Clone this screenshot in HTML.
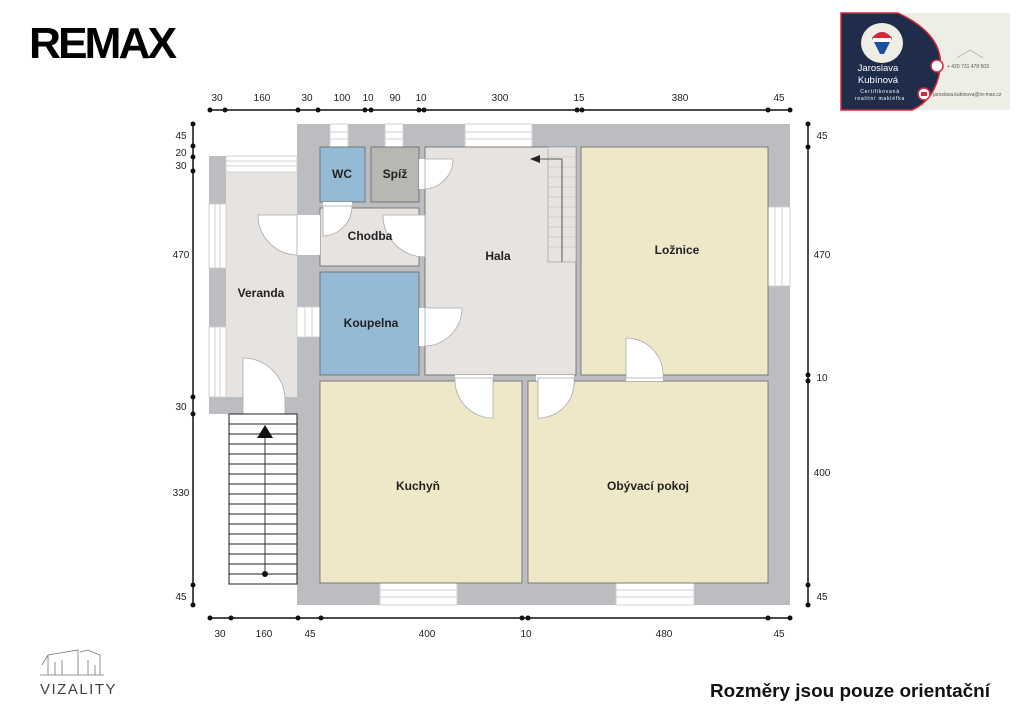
<!DOCTYPE html>
<html><head><meta charset="utf-8">
<style>
html,body{margin:0;padding:0;background:#fff;}
body{width:1024px;height:723px;position:relative;overflow:hidden;font-family:"Liberation Sans",sans-serif;}
svg text{font-family:"Liberation Sans",sans-serif;}
</style></head>
<body>
<svg width="1024" height="723" viewBox="0 0 1024 723" xmlns="http://www.w3.org/2000/svg">
<text x="29" y="58" font-size="44" font-weight="bold" fill="#000" textLength="145" lengthAdjust="spacingAndGlyphs" letter-spacing="-3">REMAX</text>

<rect x="841" y="13" width="169" height="97" fill="#efeee6"/>
<path d="M841,13 L898,13 Q945,35 940,70 Q935,100 912,110 L841,110 Z" fill="#1f2d4a" stroke="#d8263a" stroke-width="1.5"/>
<ellipse cx="882" cy="43" rx="21" ry="20" fill="#efeee6"/>
<path d="M872,38 Q882,26 892,38 L884,54 L880,54 Z" fill="#1b4fa0"/>
<path d="M872,38 Q882,26 892,38 L872,38 Z" fill="#d8263a"/>
<rect x="873" y="38" width="18" height="4" fill="#fff"/>
<text x="878" y="71" font-size="9.5" fill="#fff" text-anchor="middle">Jaroslava</text>
<text x="878" y="83" font-size="9.5" fill="#fff" text-anchor="middle">Kubínová</text>
<text x="880" y="93" font-size="5" fill="#fff" text-anchor="middle" letter-spacing="0.8">Certifikovaná</text>
<text x="880" y="100" font-size="5" fill="#fff" text-anchor="middle" letter-spacing="0.8">realitní makléřka</text>
<circle cx="937" cy="66" r="6" fill="#fff" stroke="#d8263a" stroke-width="1.5"/>
<circle cx="924" cy="94" r="6" fill="#fff" stroke="#d8263a" stroke-width="1.5"/>
<rect x="921" y="92" width="6" height="4" fill="#d8263a"/>
<text x="947" y="68" font-size="5" fill="#555">+ 420 731 478 503</text>
<text x="933" y="96" font-size="5" fill="#555">jaroslava.kubinova@re-max.cz</text>
<path d="M957,58 L970,50 L983,58" fill="none" stroke="#999" stroke-width="0.6"/>

<rect x="297" y="124" width="493" height="481" fill="#bcbdc0"/>
<rect x="209" y="156" width="89" height="258" fill="#bcbdc0"/>
<rect x="226" y="172" width="71" height="225" fill="#e6e3e1"/>
<g fill="#fff" stroke="#d0d0d0" stroke-width="1">
<rect x="330" y="124" width="18" height="23"/>
<rect x="385" y="124" width="18" height="23"/>
<rect x="465" y="124" width="67" height="23"/>
<rect x="226" y="156" width="71" height="16"/>
<rect x="209" y="204" width="17" height="64"/>
<rect x="209" y="327" width="17" height="70"/>
<rect x="297" y="307" width="23" height="30"/>
<rect x="768" y="207" width="22" height="79"/>
<rect x="380" y="583" width="77" height="22"/>
<rect x="616" y="583" width="78" height="22"/>
</g>
<g stroke="#d0d0d0" stroke-width="1">
<line x1="330" y1="132" x2="348" y2="132"/><line x1="330" y1="139" x2="348" y2="139"/>
<line x1="385" y1="132" x2="403" y2="132"/><line x1="385" y1="139" x2="403" y2="139"/>
<line x1="465" y1="132" x2="532" y2="132"/><line x1="465" y1="139" x2="532" y2="139"/>
<line x1="226" y1="161" x2="297" y2="161"/><line x1="226" y1="166" x2="297" y2="166"/>
<line x1="215" y1="204" x2="215" y2="268"/><line x1="220" y1="204" x2="220" y2="268"/>
<line x1="215" y1="327" x2="215" y2="397"/><line x1="220" y1="327" x2="220" y2="397"/>
<line x1="305" y1="307" x2="305" y2="337"/><line x1="312" y1="307" x2="312" y2="337"/>
<line x1="775" y1="207" x2="775" y2="286"/><line x1="782" y1="207" x2="782" y2="286"/>
<line x1="380" y1="590" x2="457" y2="590"/><line x1="380" y1="597" x2="457" y2="597"/>
<line x1="616" y1="590" x2="694" y2="590"/><line x1="616" y1="597" x2="694" y2="597"/>
</g>
<g stroke="#666" stroke-width="0.8">
<rect x="320" y="147" width="45" height="55" fill="#94bad6"/>
<rect x="371" y="147" width="48" height="55" fill="#b9b7b1"/>
<rect x="320" y="208" width="99" height="58" fill="#e6e3e1"/>
<rect x="320" y="272" width="99" height="103" fill="#94bad6"/>
<rect x="425" y="147" width="151" height="228" fill="#e6e3e1"/>
<rect x="581" y="147" width="187" height="228" fill="#efe8c8"/>
<rect x="320" y="381" width="202" height="202" fill="#efe8c8"/>
<rect x="528" y="381" width="240" height="202" fill="#efe8c8"/>
</g>
<rect x="548" y="147" width="28" height="115" fill="#e6e3e1" stroke="#999" stroke-width="0.6"/>
<g stroke="#bbb" stroke-width="0.6">
<line x1="548" y1="157" x2="576" y2="157"/><line x1="548" y1="167" x2="576" y2="167"/><line x1="548" y1="177" x2="576" y2="177"/><line x1="548" y1="187" x2="576" y2="187"/><line x1="548" y1="197" x2="576" y2="197"/><line x1="548" y1="207" x2="576" y2="207"/><line x1="548" y1="217" x2="576" y2="217"/><line x1="548" y1="227" x2="576" y2="227"/><line x1="548" y1="237" x2="576" y2="237"/><line x1="548" y1="247" x2="576" y2="247"/>
</g>
<path d="M562,262 L562,159 L540,159" fill="none" stroke="#333" stroke-width="0.8"/>
<path d="M530,159 L540,155 L540,163 Z" fill="#222"/>
<g fill="#fff" stroke="#aaa" stroke-width="0.8">
<rect x="297" y="215" width="23" height="40" stroke="none"/>
<path d="M297,215 L258,215 A40,40 0 0 0 297,255 Z"/>
<rect x="323" y="202" width="29" height="6" stroke="none"/>
<path d="M323,206 L323,236 A30,30 0 0 0 352,206 Z"/>
<rect x="419" y="215" width="6" height="42" stroke="none"/>
<path d="M425,215 L383,215 A42,42 0 0 0 425,257 Z"/>
<rect x="419" y="159" width="6" height="30" stroke="none"/>
<path d="M425,159 L453,159 A30,30 0 0 1 425,189 Z"/>
<rect x="419" y="308" width="6" height="38" stroke="none"/>
<path d="M425,308 L462,308 A38,38 0 0 1 425,346 Z"/>
<rect x="455" y="375" width="38" height="6" stroke="none"/>
<path d="M493,378 L493,418 A38,38 0 0 1 455,378 Z"/>
<rect x="536" y="375" width="38" height="6" stroke="none"/>
<path d="M538,378 L538,418 A36,36 0 0 0 574,378 Z"/>
<rect x="626" y="375" width="37" height="6" stroke="none"/>
<path d="M626,378 L626,338 A37,37 0 0 1 663,378 Z"/>
<rect x="243" y="397" width="41" height="17" stroke="none"/>
<path d="M243,414 L243,358 A42,42 0 0 1 285,400 L285,414 Z"/>
</g>
<rect x="229" y="414" width="68" height="170" fill="#fff" stroke="#222" stroke-width="1"/>
<g stroke="#222" stroke-width="0.9">
<line x1="229" y1="424" x2="297" y2="424"/><line x1="229" y1="434" x2="297" y2="434"/><line x1="229" y1="444" x2="297" y2="444"/><line x1="229" y1="454" x2="297" y2="454"/><line x1="229" y1="464" x2="297" y2="464"/><line x1="229" y1="474" x2="297" y2="474"/><line x1="229" y1="484" x2="297" y2="484"/><line x1="229" y1="494" x2="297" y2="494"/><line x1="229" y1="504" x2="297" y2="504"/><line x1="229" y1="514" x2="297" y2="514"/><line x1="229" y1="524" x2="297" y2="524"/><line x1="229" y1="534" x2="297" y2="534"/><line x1="229" y1="544" x2="297" y2="544"/><line x1="229" y1="554" x2="297" y2="554"/><line x1="229" y1="564" x2="297" y2="564"/><line x1="229" y1="574" x2="297" y2="574"/>
<line x1="265" y1="438" x2="265" y2="574"/>
</g>
<path d="M265,425 L257,438 L273,438 Z" fill="#111"/>
<circle cx="265" cy="574" r="3" fill="#111"/>

<g font-size="12" font-weight="bold" fill="#222" text-anchor="middle">
<text x="342" y="178">WC</text>
<text x="395" y="178">Spíž</text>
<text x="370" y="240">Chodba</text>
<text x="498" y="260">Hala</text>
<text x="677" y="254">Ložnice</text>
<text x="261" y="297">Veranda</text>
<text x="371" y="327">Koupelna</text>
<text x="418" y="490">Kuchyň</text>
<text x="648" y="490">Obývací pokoj</text>
</g>

<g stroke="#111" stroke-width="1.5" fill="#111">
<line x1="210" y1="110" x2="790" y2="110"/>
<line x1="210" y1="618" x2="790" y2="618"/>
<line x1="193" y1="124" x2="193" y2="605"/>
<line x1="808" y1="124" x2="808" y2="605"/>
</g>
<g fill="#111">
<circle cx="210" cy="110" r="2.5"/><circle cx="225" cy="110" r="2.5"/><circle cx="298" cy="110" r="2.5"/><circle cx="318" cy="110" r="2.5"/><circle cx="365" cy="110" r="2.5"/><circle cx="371" cy="110" r="2.5"/><circle cx="419" cy="110" r="2.5"/><circle cx="424" cy="110" r="2.5"/><circle cx="577" cy="110" r="2.5"/><circle cx="582" cy="110" r="2.5"/><circle cx="768" cy="110" r="2.5"/><circle cx="790" cy="110" r="2.5"/>
<circle cx="210" cy="618" r="2.5"/><circle cx="231" cy="618" r="2.5"/><circle cx="298" cy="618" r="2.5"/><circle cx="321" cy="618" r="2.5"/><circle cx="522" cy="618" r="2.5"/><circle cx="528" cy="618" r="2.5"/><circle cx="768" cy="618" r="2.5"/><circle cx="790" cy="618" r="2.5"/>
<circle cx="193" cy="124" r="2.5"/><circle cx="193" cy="146" r="2.5"/><circle cx="193" cy="157" r="2.5"/><circle cx="193" cy="171" r="2.5"/><circle cx="193" cy="397" r="2.5"/><circle cx="193" cy="414" r="2.5"/><circle cx="193" cy="585" r="2.5"/><circle cx="193" cy="605" r="2.5"/>
<circle cx="808" cy="124" r="2.5"/><circle cx="808" cy="147" r="2.5"/><circle cx="808" cy="375" r="2.5"/><circle cx="808" cy="381" r="2.5"/><circle cx="808" cy="585" r="2.5"/><circle cx="808" cy="605" r="2.5"/>
</g>
<g font-size="10" fill="#222" text-anchor="middle">
<text x="217" y="101">30</text><text x="262" y="101">160</text><text x="307" y="101">30</text><text x="342" y="101">100</text><text x="368" y="101">10</text><text x="395" y="101">90</text><text x="421" y="101">10</text><text x="500" y="101">300</text><text x="579" y="101">15</text><text x="680" y="101">380</text><text x="779" y="101">45</text>
<text x="220" y="637">30</text><text x="264" y="637">160</text><text x="310" y="637">45</text><text x="427" y="637">400</text><text x="526" y="637">10</text><text x="664" y="637">480</text><text x="779" y="637">45</text>
<text x="181" y="139">45</text><text x="181" y="156">20</text><text x="181" y="169">30</text><text x="181" y="258">470</text><text x="181" y="410">30</text><text x="181" y="496">330</text><text x="181" y="600">45</text>
<text x="822" y="139">45</text><text x="822" y="258">470</text><text x="822" y="381">10</text><text x="822" y="476">400</text><text x="822" y="600">45</text>
</g>

<g fill="none" stroke="#777" stroke-width="0.8">
<path d="M42,665 L48,655 L78,650 L78,675 M48,655 L48,675 M55,662 L55,675 M62,660 L62,675 M80,652 L88,650 L100,655 L100,675 M88,660 L88,675 M95,665 L95,675 M40,675 L104,675"/>
</g>
<text x="40" y="694" font-size="15" fill="#444" letter-spacing="1.5">VIZALITY</text>

<text x="710" y="697" font-size="18" font-weight="bold" fill="#111" textLength="280" lengthAdjust="spacingAndGlyphs">Rozměry jsou pouze orientační</text>
</svg>
</body></html>
